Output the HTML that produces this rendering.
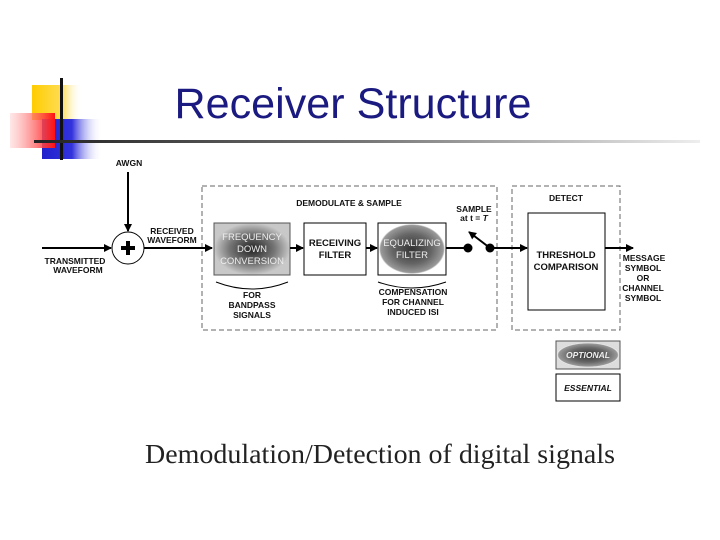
<!DOCTYPE html>
<html><head><style>body{margin:0;background:#fff}svg{display:block}</style></head><body>
<svg width="720" height="540" viewBox="0 0 720 540" xmlns="http://www.w3.org/2000/svg">
<defs>
<linearGradient id="gy" x1="0" x2="1"><stop offset="0" stop-color="#ffcc00"/><stop offset="0.6" stop-color="#ffdd55"/><stop offset="1" stop-color="#fff" stop-opacity="0"/></linearGradient>
<linearGradient id="gr" x1="1" x2="0"><stop offset="0" stop-color="#ff1010"/><stop offset="1" stop-color="#ffd0d0" stop-opacity="0.5"/></linearGradient>
<linearGradient id="gb" x1="0" x2="1"><stop offset="0" stop-color="#2222cc"/><stop offset="0.5" stop-color="#3333dd"/><stop offset="1" stop-color="#fff" stop-opacity="0"/></linearGradient>
<linearGradient id="gl" x1="0" x2="1"><stop offset="0" stop-color="#222"/><stop offset="0.5" stop-color="#777"/><stop offset="1" stop-color="#eee"/></linearGradient>
<radialGradient id="rg"><stop offset="0" stop-color="#222"/><stop offset="0.6" stop-color="#777"/><stop offset="1" stop-color="#c8c8c8"/></radialGradient>
<radialGradient id="rg2"><stop offset="0" stop-color="#333"/><stop offset="0.6" stop-color="#666"/><stop offset="0.95" stop-color="#999"/><stop offset="1" stop-color="#fff"/></radialGradient>
<marker id="a" markerWidth="8" markerHeight="8" refX="7" refY="4" orient="auto" markerUnits="userSpaceOnUse"><path d="M0,0 L8,4 L0,8 z" fill="#000"/></marker>
</defs>
<rect x="32" y="85" width="50" height="35" fill="url(#gy)"/>
<rect x="42" y="119" width="60" height="40" fill="url(#gb)"/>
<rect x="10" y="113" width="45" height="35" fill="url(#gr)"/>
<rect x="60" y="78" width="3" height="82" fill="#111"/>
<rect x="34" y="140" width="666" height="3" fill="url(#gl)"/>
<text x="353" y="118" font-family="Liberation Sans, sans-serif" font-size="43" fill="#1a1a80" text-anchor="middle" textLength="357" lengthAdjust="spacingAndGlyphs">Receiver Structure</text>
<g font-family="Liberation Sans, sans-serif" font-weight="bold" font-size="8.5" fill="#111" text-anchor="middle">
<rect x="202" y="186" width="295" height="144" fill="none" stroke="#666" stroke-dasharray="5,3"/>
<rect x="512" y="186" width="108" height="144" fill="none" stroke="#666" stroke-dasharray="5,3"/>
<text x="129" y="166">AWGN</text>
<line x1="128" y1="172" x2="128" y2="231" stroke="#000" stroke-width="2" marker-end="url(#a)"/>
<line x1="42" y1="248" x2="111" y2="248" stroke="#000" stroke-width="2" marker-end="url(#a)"/>
<circle cx="128" cy="248" r="16" fill="#fff" stroke="#000"/>
<path d="M121,248 H135 M128,241 V255" stroke="#000" stroke-width="4"/>
<text x="75" y="264">TRANSMITTED</text><text x="78" y="273">WAVEFORM</text>
<text x="172" y="234">RECEIVED</text><text x="172" y="243">WAVEFORM</text>
<line x1="144" y1="248" x2="212" y2="248" stroke="#000" stroke-width="2" marker-end="url(#a)"/>
<text x="349" y="206">DEMODULATE &amp; SAMPLE</text>
<rect x="214" y="223" width="76" height="52" fill="url(#rg)" stroke="#555"/>
<g fill="#eee" font-weight="normal" font-size="9.5"><text x="252" y="240">FREQUENCY</text><text x="252" y="252">DOWN</text><text x="252" y="264">CONVERSION</text></g>
<line x1="290" y1="248" x2="303" y2="248" stroke="#000" stroke-width="2" marker-end="url(#a)"/>
<rect x="304" y="223" width="62" height="52" fill="#fff" stroke="#000"/>
<g font-size="9.5"><text x="335" y="246">RECEIVING</text><text x="335" y="258">FILTER</text></g>
<line x1="366" y1="248" x2="377" y2="248" stroke="#000" stroke-width="2" marker-end="url(#a)"/>
<rect x="378" y="223" width="68" height="52" fill="#fff" stroke="#000"/>
<ellipse cx="412" cy="249" rx="33" ry="25" fill="url(#rg2)"/>
<g fill="#eee" font-weight="normal" font-size="9.5"><text x="412" y="246">EQUALIZING</text><text x="412" y="258">FILTER</text></g>
<line x1="446" y1="248" x2="468" y2="248" stroke="#000" stroke-width="2"/>
<circle cx="468" cy="248" r="4.5" fill="#000"/><circle cx="490" cy="248" r="4.5" fill="#000"/>
<line x1="490" y1="248" x2="469" y2="232" stroke="#000" stroke-width="2" marker-end="url(#a)"/>
<text x="474" y="212">SAMPLE</text><text x="474" y="221">at t = <tspan font-style="italic">T</tspan></text>
<line x1="490" y1="248" x2="527" y2="248" stroke="#000" stroke-width="2" marker-end="url(#a)"/>
<path d="M216,282 Q252,296 288,282" fill="none" stroke="#000"/>
<text x="252" y="298">FOR</text><text x="252" y="308">BANDPASS</text><text x="252" y="318">SIGNALS</text>
<path d="M378,282 Q412,294 446,282" fill="none" stroke="#000"/>
<text x="413" y="295">COMPENSATION</text><text x="413" y="305">FOR CHANNEL</text><text x="413" y="315">INDUCED ISI</text>
<text x="566" y="201">DETECT</text>
<rect x="528" y="213" width="77" height="97" fill="#fff" stroke="#000"/>
<g font-size="9.5"><text x="566" y="258">THRESHOLD</text><text x="566" y="270">COMPARISON</text></g>
<line x1="605" y1="248" x2="633" y2="248" stroke="#000" stroke-width="2" marker-end="url(#a)"/>
<text x="644" y="261">MESSAGE</text><text x="643" y="271">SYMBOL</text><text x="643" y="281">OR</text><text x="643" y="291">CHANNEL</text><text x="643" y="301">SYMBOL</text>
<rect x="556" y="341" width="64" height="28" fill="#ddd" stroke="#555"/>
<ellipse cx="588" cy="355" rx="31" ry="12" fill="url(#rg2)"/>
<text x="588" y="358" fill="#eee" font-style="italic">OPTIONAL</text>
<rect x="556" y="374" width="64" height="27" fill="#fff" stroke="#000"/>
<text x="588" y="391" font-style="italic">ESSENTIAL</text>
</g>
<text x="380" y="463" font-family="Liberation Serif, serif" font-size="27" fill="#222" text-anchor="middle" textLength="470" lengthAdjust="spacingAndGlyphs">Demodulation/Detection of digital signals</text>
</svg>
</body></html>
